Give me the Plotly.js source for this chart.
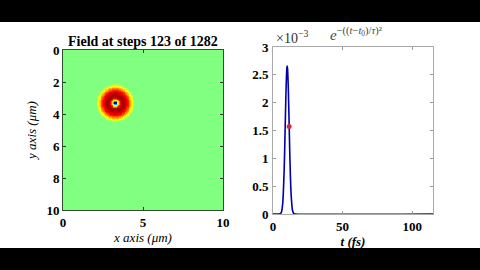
<!DOCTYPE html>
<html><head><meta charset="utf-8">
<script src="https://cdn.plot.ly/plotly-3.0.1.min.js"></script>
<style>
html,body{margin:0;padding:0;background:#000;overflow:hidden;}
#band{position:absolute;left:0;top:22px;width:480px;height:226px;background:#fff;}
#chart{position:absolute;left:0;top:0;width:480px;height:270px;}
</style></head><body>
<div id="band"></div><div id="chart"></div>
<script>
// Pulse envelope (values in units of 1e-3)
const pulseT = [0, 5, 6, 7, 8, 8.5, 9, 9.5, 10, 10.2, 10.5, 11, 11.5, 12, 12.5, 13, 14, 15, 16, 115];
const pulseE = [0, 0.003, 0.03, 0.195, 0.77, 1.27, 1.84, 2.34, 2.63, 2.66, 2.60, 2.26, 1.73, 1.16, 0.69, 0.36, 0.067, 0.007, 0, 0];
const markerT = [11.6];
const markerE = [1.57];
// Radial field profile of the blob (µm -> field value, -1..1)
const ringRadius = [0.00,0.05,0.10,0.15,0.20,0.25,0.30,0.35,0.40,0.45,0.50,0.55,0.60,0.65,0.70,0.75,0.80,0.85,0.90,0.95,1.00,1.05,1.10,1.15,1.20,1.25];
const ringLevel  = [-0.95,-0.90,-0.40,0.22,0.30,0.55,0.76,0.86,0.91,0.93,0.93,0.91,0.87,0.83,0.79,0.75,0.69,0.59,0.49,0.40,0.32,0.24,0.16,0.08,0.02,0.00];
const blobCenter = [3.25, 3.3];
const domainSize = 10;
const leftTicks = [0, 5, 10];
const leftYTicks = [0, 2, 4, 6, 8, 10];
const rightXTicks = [0, 50, 100];
const rightYTicks = [0, 0.5, 1, 1.5, 2, 2.5, 3];

// build field table
const step = 0.05;
const gx = [];
for (let i = 0; i <= Math.round(domainSize/step); i++) gx.push(+(i*step).toFixed(3));
const z = gx.map(yv => gx.map(xv => {
  const r = Math.hypot(xv - blobCenter[0], yv - blobCenter[1]);
  let best = -1, bd = 1e9;
  for (let k = 0; k < ringRadius.length; k++) {
    const d = Math.abs(ringRadius[k] - r);
    if (d < bd) { bd = d; best = k; }
  }
  return r > ringRadius[ringRadius.length-1] + 0.025 ? 0 : ringLevel[best];
}));

const jet = [[0,'rgb(0,0,128)'],[0.125,'rgb(0,0,255)'],[0.375,'rgb(0,255,255)'],[0.625,'rgb(255,255,0)'],[0.875,'rgb(255,0,0)'],[1,'rgb(128,0,0)']];
const serif = 'Liberation Serif, Times New Roman, serif';
const tickFont = {family: serif, size: 13, color: '#000', weight: 'bold'};

const traces = [
  {type:'heatmap', x: gx, y: gx, z: z, colorscale: jet, zmin: -1, zmax: 1, showscale: false, zsmooth: 'best', xaxis:'x', yaxis:'y', hoverinfo:'skip'},
  {type:'scatter', mode:'lines', x: pulseT, y: pulseE, line:{color:'rgb(0,0,170)', width:1.6, shape:'spline', smoothing:0.6}, xaxis:'x2', yaxis:'y2', showlegend:false},
  {type:'scatter', mode:'markers', x: markerT, y: markerE, marker:{color:'rgb(210,40,70)', size:5}, xaxis:'x2', yaxis:'y2', showlegend:false}
];

const layout = {
  width: 480, height: 270,
  margin: {l:0, r:0, t:0, b:0},
  paper_bgcolor: 'rgba(0,0,0,0)', plot_bgcolor: 'rgba(0,0,0,0)',
  showlegend: false,
  xaxis: {domain:[63/480, 223/480], range:[0, 10], tickvals: leftTicks, ticks:'inside', ticklen:3, tickcolor:'#333',
    showline:true, mirror:'ticks', linecolor:'#2f4f2f', linewidth:1, showgrid:false, zeroline:false, tickfont: tickFont,
    title:{text:'x axis (μm)', font:{family: serif, size: 13, style:'italic', color:'#000'}, standoff: 4}, automargin:false},
  yaxis: {domain:[60/270, 220/270], range:[10, 0], tickvals: leftYTicks, ticks:'inside', ticklen:3, tickcolor:'#333',
    showline:true, mirror:'ticks', linecolor:'#2f4f2f', linewidth:1, showgrid:false, zeroline:false, tickfont: tickFont,
    title:{text:'y axis (μm)', font:{family: serif, size: 13, style:'italic', color:'#000'}, standoff: 6}, automargin:false},
  xaxis2: {domain:[273/480, 433/480], range:[0, 115], tickvals: rightXTicks, ticks:'inside', ticklen:3, tickcolor:'#999',
    showline:true, mirror:'ticks', linecolor:'#aaa', linewidth:1, showgrid:false, zeroline:false, tickfont: tickFont,
    title:{text:'t (fs)', font:{family: serif, size: 13, style:'italic', color:'#000', weight:'bold'}, standoff: 2}, automargin:false, anchor:'y2'},
  yaxis2: {domain:[56/270, 223/270], range:[0, 3], tickvals: rightYTicks, ticks:'inside', ticklen:3, tickcolor:'#999',
    showline:true, mirror:'ticks', linecolor:'#aaa', linewidth:1, showgrid:false, zeroline:false, tickfont: tickFont,
    automargin:false, anchor:'x2', ticklabelstandoff: 1},
  annotations: [
    {text:'<b>Field at steps 123 of 1282</b>', xref:'paper', yref:'paper', x:143/480, y:1-41/270, xanchor:'center', yanchor:'middle', showarrow:false,
      font:{family: serif, size: 14, color:'#000'}},
    {text:'×10<sup>−3</sup>', xref:'paper', yref:'paper', x:274/480, y:1-37/270, xanchor:'left', yanchor:'middle', showarrow:false,
      font:{family: serif, size: 14, color:'#333'}},
    {text:'<i>e</i><sup>−((<i>t</i>−<i>t</i><sub>0</sub>)/<i>τ</i>)²</sup>', xref:'paper', yref:'paper', x:356/480, y:1-34/270, xanchor:'center', yanchor:'middle', showarrow:false,
      font:{family: serif, size: 15, color:'#444'}}
  ]
};
Plotly.newPlot('chart', traces, layout, {staticPlot:true, displayModeBar:false});
</script>
</body></html>
